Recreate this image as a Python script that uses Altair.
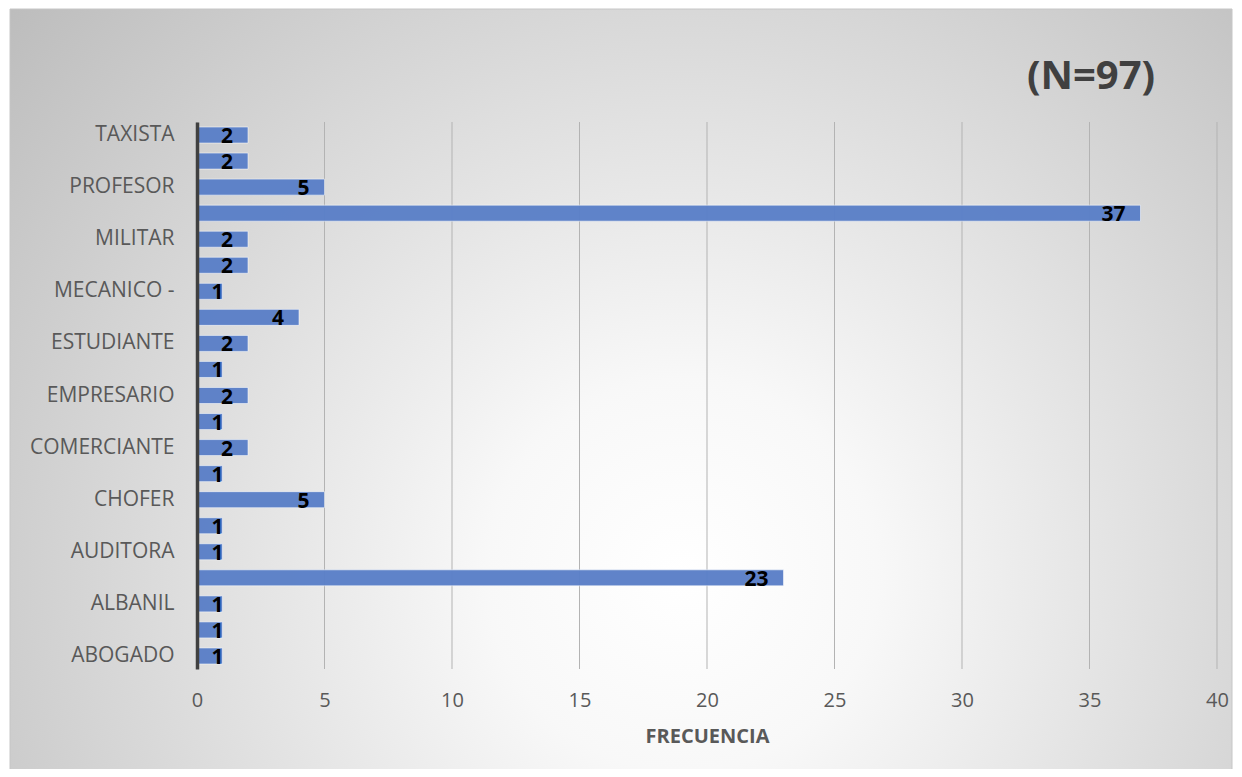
import altair as alt
import pandas as pd

# Categories top-to-bottom (only every other label is printed on the axis, as in the original)
categories = ["TAXISTA", "SECRETARIA", "PROFESOR", "NINGUNO", "MILITAR", "MEDICO",
              "MECANICO -", "JUBILADO", "ESTUDIANTE", "ENFERMERA", "EMPRESARIO",
              "COSTURERA", "COMERCIANTE", "COCINERO", "CHOFER", "CARPINTERO",
              "AUDITORA", "AMA DE CASA", "ALBANIL", "AGRICULTOR", "ABOGADO"]
counts = [2, 2, 5, 37, 2, 2, 1, 4, 2, 1, 2, 1, 2, 1, 5, 1, 1, 23, 1, 1, 1]
shown_labels = categories[0::2]
x_ticks = [0, 5, 10, 15, 20, 25, 30, 35, 40]
x_title = "FRECUENCIA"
n_label = f"(N={sum(counts)})"

df = pd.DataFrame({"ocupacion": categories, "frecuencia": counts})
grid_df = pd.DataFrame({"frecuencia": x_ticks})

FONT = "Open Sans"
W, H = 1020, 547

label_expr = "indexof([" + ",".join(f"'{c}'" for c in shown_labels) + "], datum.value) >= 0 ? datum.value : ''"

x_scale = alt.Scale(domain=[0, 40], nice=False, zero=True)
y_scale = alt.Scale(domain=categories, paddingInner=0.385, paddingOuter=0.1925)

x_axis = alt.Axis(title=x_title, values=x_ticks, grid=False, domain=False,
                  ticks=False, tickSize=0, labelFont=FONT, labelFontSize=20,
                  labelColor="#595959", labelPadding=21, labelFlush=False,
                  titleFont=FONT, titleFontSize=20, titleFontWeight="bold",
                  titleColor="#595959", titlePadding=16, zindex=1)

background = alt.Chart(alt.Data(values=[{"a": 1}])).mark_rect(
    fill={
        "gradient": "radial",
        "x1": 0.55, "y1": 0.65, "r1": 0.0,
        "x2": 0.55, "y2": 0.65, "r2": 0.8,
        "stops": [
            {"offset": 0.0, "color": "#ffffff"},
            {"offset": 0.2, "color": "#f8f8f8"},
            {"offset": 1.0, "color": "#b4b4b4"},
        ],
    },
    stroke="#c6c6c6",
    strokeWidth=1,
).encode(
    x=alt.value(-187), x2=alt.value(1035), y=alt.value(-113), y2=alt.value(653)
)

grid = alt.Chart(grid_df).mark_rule(color="#b3b3b3", strokeWidth=1).encode(
    x=alt.X("frecuencia:Q", scale=x_scale, axis=x_axis)
)

bars = alt.Chart(df).mark_bar(
    color="#5b80c8", stroke="#ffffff", strokeOpacity=0.55, strokeWidth=1, opacity=0.97
).encode(
    y=alt.Y("ocupacion:N", sort=categories, scale=y_scale,
            axis=alt.Axis(title=None, labelExpr=label_expr, labelFont=FONT,
                          labelFontSize=21, labelColor="#595959", labelPadding=23,
                          ticks=False, tickSize=0, domain=True, domainColor="#404040",
                          domainWidth=3.5, grid=False, zindex=1, labelOverlap=False)),
    x=alt.X("frecuencia:Q", scale=x_scale, axis=x_axis),
)

labels_big = alt.Chart(df).transform_filter("datum.frecuencia >= 2").mark_text(
    font=FONT, fontSize=21, fontWeight="bold", color="#000000",
    align="right", baseline="middle", dx=-15, dy=2
).encode(
    x=alt.X("frecuencia:Q", scale=x_scale),
    y=alt.Y("ocupacion:N", sort=categories, scale=y_scale),
    text="frecuencia:Q",
)

labels_small = alt.Chart(df).transform_filter("datum.frecuencia < 2").mark_text(
    font=FONT, fontSize=21, fontWeight="bold", color="#000000",
    align="right", baseline="middle", dx=1, dy=2
).encode(
    x=alt.X("frecuencia:Q", scale=x_scale),
    y=alt.Y("ocupacion:N", sort=categories, scale=y_scale),
    text="frecuencia:Q",
)

n_text = alt.Chart(alt.Data(values=[{"t": n_label}])).mark_text(
    font=FONT, fontSize=40, fontWeight="bold", color="#404040",
    align="center", baseline="middle"
).encode(x=alt.value(894), y=alt.value(-45), text="t:N")

chart = alt.layer(background, grid, bars, labels_big, labels_small, n_text).properties(
    width=W, height=H,
    autosize=alt.AutoSizeParams(type="none"),
    padding={"left": 189, "top": 114, "right": 17, "bottom": 100},
).configure_view(stroke=None).configure(background="white")

chart.save("out.html", embed_options={"renderer": "svg", "actions": False})
